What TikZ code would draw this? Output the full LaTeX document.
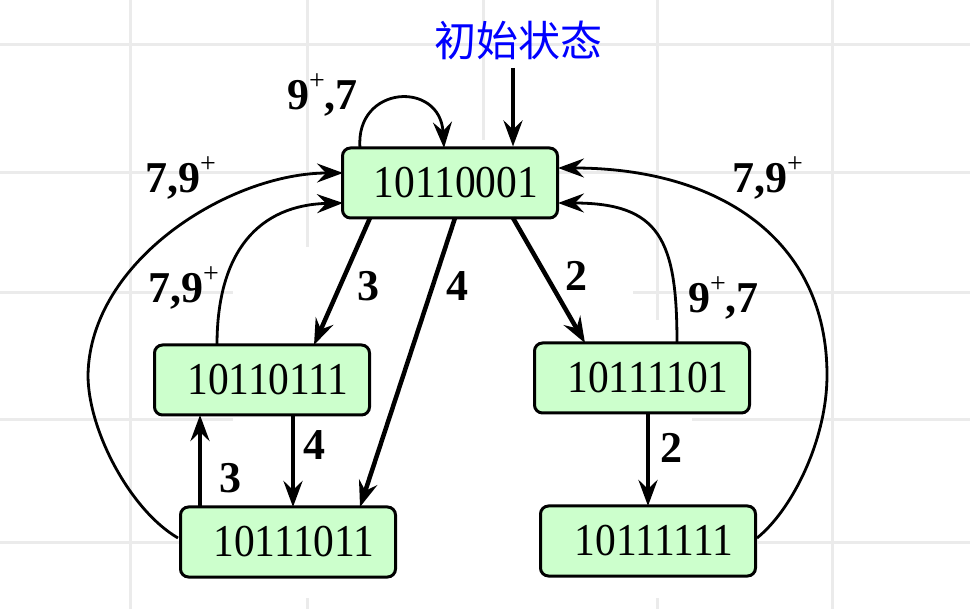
\documentclass[tikz,border=0pt]{standalone}
\usepackage{fontspec}
\setmainfont{Liberation Serif}
\newfontfamily\cjk{Noto Sans CJK SC}
\usetikzlibrary{arrows.meta}
\definecolor{gridgray}{RGB}{235,235,235}
\definecolor{statefill}{RGB}{204,255,204}
\newcommand{\plussup}{\raisebox{20pt}{\fontsize{28}{28}\selectfont\mdseries +}}
\newcommand{\stxt}[1]{\hspace*{12pt}\scalebox{1}[1.1]{#1}}
\begin{document}
\begin{tikzpicture}[x=1pt,y=-1pt,
  gridline/.style={gridgray,line width=3pt},
  state/.style={draw=black,fill=statefill,line width=3pt,rounded corners=8pt,
    minimum width=215pt,minimum height=70pt,inner sep=0pt,
    font=\fontsize{41.5}{41.5}\selectfont},
  tip/.style={-{Stealth[length=26pt,width=19pt,inset=9pt]}},
  thickarrow/.style={tip,line width=4.5pt},
  curvearrow/.style={tip,line width=2.8pt},
  lbl/.style={font=\fontsize{44}{44}\selectfont\bfseries,inner sep=0pt}]
\useasboundingbox (0,0) rectangle (970,609);
% grid
\draw[gridline] (130,0) -- (130,609);
\draw[gridline] (307,0) -- (307,247);
\draw[gridline] (307,598) -- (307,609);
\draw[gridline] (483,0) -- (483,140);
\draw[gridline] (657,0) -- (657,320);
\draw[gridline] (657,598) -- (657,609);
\draw[gridline] (832,0) -- (832,609);
\draw[gridline] (0,45) -- (970,45);
\draw[gridline] (0,173) -- (970,173);
\draw[gridline] (0,293) -- (233,293);
\draw[gridline] (633,293) -- (970,293);
\draw[gridline] (0,420) -- (233,420);
\draw[gridline] (692,420) -- (970,420);
\draw[gridline] (0,543) -- (180,543);
\draw[gridline] (758,543) -- (970,543);
% states
\node[state] (n1) at (450,183) {\stxt{10110001}};
\node[state] (n2) at (262,380) {\stxt{10110111}};
\node[state] (n3) at (288,542) {\stxt{10111011}};
\node[state] (n4) at (642,378) {\stxt{10111101}};
\node[state] (n5) at (648,541) {\stxt{10111111}};
% initial
\node[text=blue,font=\cjk\fontsize{42}{42}\selectfont,inner sep=0pt] (init) at (518,40) {初始状态};
\coordinate (i0) at (513,68);
\draw[thickarrow] (i0) -- (n1.north -| i0);
% straight transitions
\coordinate (a1) at (370,218); \coordinate (a2) at (314,345);
\draw[thickarrow] (a1) -- (a2);
\coordinate (b1) at (455,218); \coordinate (b2) at (360,507);
\draw[thickarrow] (b1) -- (b2);
\coordinate (c1) at (513,218); \coordinate (c2) at (585,343);
\draw[thickarrow] (c1) -- (c2);
\coordinate (d1) at (200,507); \coordinate (d2) at (200,415);
\draw[thickarrow] (d1) -- (d2);
\coordinate (e1) at (293,415); \coordinate (e2) at (293,507);
\draw[thickarrow] (e1) -- (e2);
\coordinate (f1) at (648,414); \coordinate (f2) at (648,506);
\draw[thickarrow] (f1) -- (f2);
% curved transitions
\coordinate (s1) at (360,148); \coordinate (s2) at (444,148);
\draw[curvearrow] (s1) .. controls (355,85) and (440,80) .. (s2);
\coordinate (g1) at (178,538); \coordinate (gm) at (88,375); \coordinate (g2) at (343,173);
\draw[curvearrow] (g1) .. controls (130,510) and (88,430) .. (gm) .. controls (90,260) and (230,173) .. (g2);
\coordinate (h1) at (217,345); \coordinate (h2) at (343,203);
\draw[curvearrow] (h1) .. controls (217,250) and (260,205) .. (h2);
\coordinate (k1) at (757,538); \coordinate (km) at (827,375); \coordinate (k2) at (558,168);
\draw[curvearrow] (k1) .. controls (792,510) and (827,440) .. (km) .. controls (827,240) and (720,168) .. (k2);
\coordinate (m1) at (677,343); \coordinate (m2) at (558,203);
\draw[curvearrow] (m1) .. controls (677,240) and (660,203) .. (m2);
% labels
\node[lbl,anchor=base west] (l1) at (287,110) {9\plussup,7};
\node[lbl,anchor=base west] (l2) at (145,193) {7,9\plussup};
\node[lbl,anchor=base west] (l3) at (148,303) {7,9\plussup};
\node[lbl,anchor=base west] (l4) at (732,193) {7,9\plussup};
\node[lbl,anchor=base west] (l5) at (688,313) {9\plussup,7};
\node[lbl] (l6) at (368,286) {3};
\node[lbl] (l7) at (457,286) {4};
\node[lbl] (l8) at (576,276) {2};
\node[lbl] (l9) at (230,478) {3};
\node[lbl] (l10) at (314,445) {4};
\node[lbl] (l11) at (671,448) {2};
\end{tikzpicture}
\end{document}
